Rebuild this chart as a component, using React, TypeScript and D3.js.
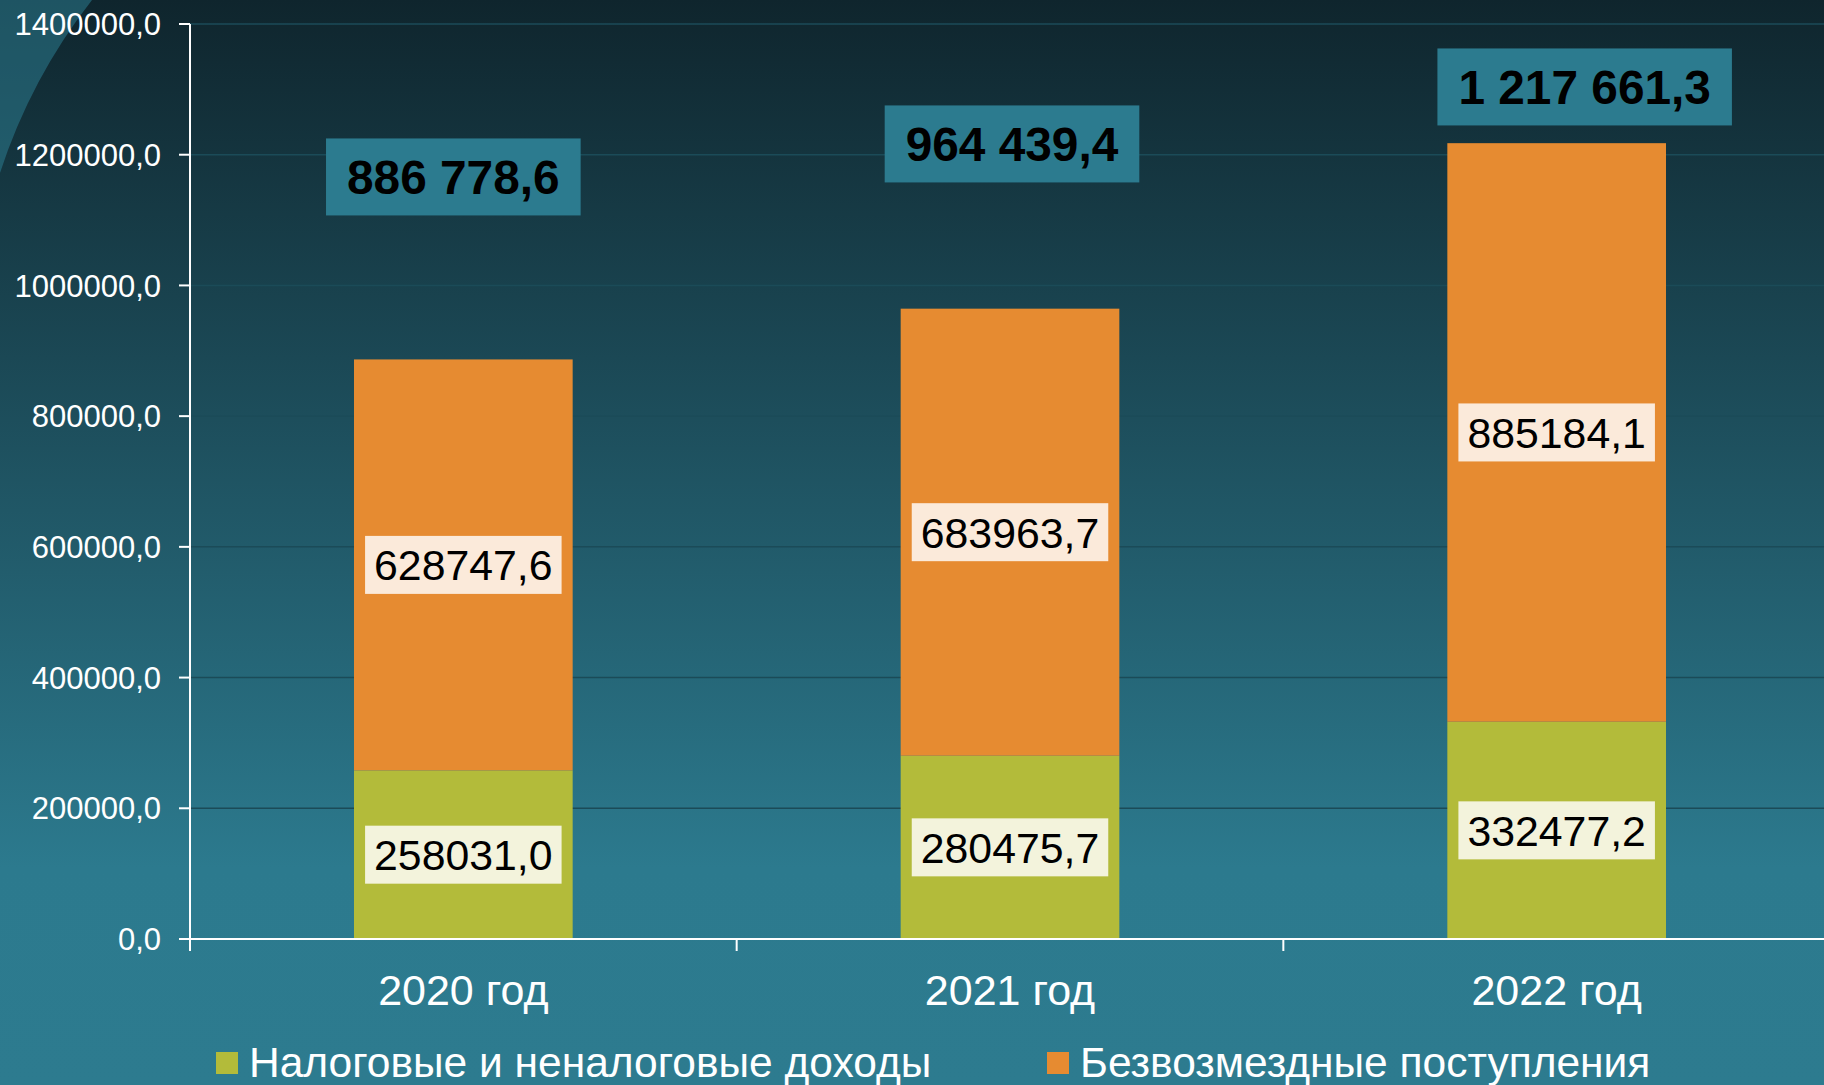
import React, { Component, createRef } from "react";
import * as d3 from "d3";

const categories = ["2020 год", "2021 год", "2022 год"];
const taxIncome = [258031.0, 280475.7, 332477.2];
const grantIncome = [628747.6, 683963.7, 885184.1];
const totalIncome = [886778.6, 964439.4, 1217661.3];
const seriesNames = ["Налоговые и неналоговые доходы", "Безвозмездные поступления"];
const yTicks = [0, 200000, 400000, 600000, 800000, 1000000, 1200000, 1400000];

// total boxes were placed by hand on the slide: level in value units, sideways nudge in px
const totalLabelLevel = [1166000, 1216500, 1303700];
const totalLabelShift = [-10, 2, 28];

const W = 1824;
const H = 1085;
const FONT = "'Liberation Sans', Arial, sans-serif";

const colors = {
  tax: "#B3BB3A",
  grant: "#E68B31",
  taxLabel: "#F3F3DC",
  grantLabel: "#FBEADA",
  totalBox: "#2C7B8F",
  grid: "#1B4B58",
};

const ru = d3.formatLocale({ decimal: ",", thousands: " ", grouping: [3], currency: ["", ""] });
const fmtPlain = ru.format(".1f");
const fmtGrouped = ru.format(",.1f");

class App extends Component {
  svgRef = createRef<SVGSVGElement>();

  componentDidMount() {
    document.body.style.margin = "0";
    this._draw();
  }

  _draw() {
    const svg = d3.select(this.svgRef.current);
    svg.selectAll("*").remove();

    const x = d3
      .scaleBand()
      .domain(categories)
      .range([190, 1830])
      .paddingInner(0.6)
      .paddingOuter(0.3);

    const y = d3.scaleLinear().domain([0, 1400000]).range([939, 24]);

    // background
    const defs = svg.append("defs");
    const grad = defs
      .append("linearGradient")
      .attr("id", "bg")
      .attr("x1", 0)
      .attr("y1", 0)
      .attr("x2", 0)
      .attr("y2", 1);
    grad.append("stop").attr("offset", 0).attr("stop-color", "#0F252D");
    grad.append("stop").attr("offset", 0.8).attr("stop-color", "#2C7A8E");
    grad.append("stop").attr("offset", 1).attr("stop-color", "#2D7B8F");

    svg.append("rect").attr("width", W).attr("height", H).attr("fill", "url(#bg)");
    svg
      .append("path")
      .attr("d", "M0,0 L92,0 A563,563 0 0 0 0,173 Z")
      .attr("fill", "#2C7B8F")
      .attr("opacity", 0.55);

    // grid
    svg
      .selectAll(".grid")
      .data(yTicks.filter((t) => t > 0))
      .enter()
      .append("line")
      .attr("x1", 190)
      .attr("x2", W)
      .attr("y1", (d) => y(d))
      .attr("y2", (d) => y(d))
      .attr("stroke", colors.grid)
      .attr("stroke-width", 1.5);

    // bars
    const rows = categories.map((c, i) => ({ cat: c, tax: taxIncome[i], grant: grantIncome[i] }));
    const stacked = d3.stack<any>().keys(["tax", "grant"])(rows);

    stacked.forEach((layer) => {
      svg
        .selectAll(".bar-" + layer.key)
        .data(layer)
        .enter()
        .append("rect")
        .attr("x", (d: any) => x(d.data.cat)!)
        .attr("width", x.bandwidth())
        .attr("y", (d) => y(d[1]))
        .attr("height", (d) => y(d[0]) - y(d[1]))
        .attr("fill", (colors as any)[layer.key]);
    });

    // value boxes inside the segments
    stacked.forEach((layer) => {
      layer.forEach((d: any) => {
        const cx = x(d.data.cat)! + x.bandwidth() / 2;
        const cy = (y(d[0]) + y(d[1])) / 2;
        const g = svg.append("g");
        const box = g.append("rect").attr("fill", (colors as any)[layer.key + "Label"]);
        const t = g
          .append("text")
          .attr("x", cx)
          .attr("y", cy)
          .attr("dy", "0.36em")
          .attr("text-anchor", "middle")
          .attr("font-family", FONT)
          .attr("font-size", 42.8)
          .attr("fill", "#000")
          .text(fmtPlain(d.data[layer.key]));
        const w = (t.node() as SVGTextElement).getComputedTextLength() + 18;
        box
          .attr("x", cx - w / 2)
          .attr("y", cy - 29)
          .attr("width", w)
          .attr("height", 58);
      });
    });

    // totals
    totalIncome.forEach((v, i) => {
      const cx = x(categories[i])! + x.bandwidth() / 2 + totalLabelShift[i];
      const cy = y(totalLabelLevel[i]);
      const g = svg.append("g");
      const box = g.append("rect").attr("fill", colors.totalBox);
      const t = g
        .append("text")
        .attr("x", cx)
        .attr("y", cy)
        .attr("dy", "0.36em")
        .attr("text-anchor", "middle")
        .attr("font-family", FONT)
        .attr("font-weight", "bold")
        .attr("font-size", 47.8)
        .attr("fill", "#000")
        .text(fmtGrouped(v));
      const w = (t.node() as SVGTextElement).getComputedTextLength() + 42;
      box
        .attr("x", cx - w / 2)
        .attr("y", cy - 38.5)
        .attr("width", w)
        .attr("height", 77);
    });

    // axes
    const axisColor = "#FFFFFF";
    svg
      .append("line")
      .attr("x1", 190)
      .attr("x2", 190)
      .attr("y1", y(1400000))
      .attr("y2", 951)
      .attr("stroke", axisColor)
      .attr("stroke-width", 2);
    svg
      .append("line")
      .attr("x1", 179)
      .attr("x2", W)
      .attr("y1", y(0))
      .attr("y2", y(0))
      .attr("stroke", axisColor)
      .attr("stroke-width", 2);

    svg
      .selectAll(".ytick")
      .data(yTicks)
      .enter()
      .append("line")
      .attr("x1", 179)
      .attr("x2", 190)
      .attr("y1", (d) => y(d))
      .attr("y2", (d) => y(d))
      .attr("stroke", axisColor)
      .attr("stroke-width", 2);

    svg
      .selectAll(".ylabel")
      .data(yTicks)
      .enter()
      .append("text")
      .attr("x", 161)
      .attr("y", (d) => y(d))
      .attr("dy", "0.36em")
      .attr("text-anchor", "end")
      .attr("font-family", FONT)
      .attr("font-size", 31)
      .attr("fill", "#FFFFFF")
      .text((d) => fmtPlain(d));

    const step = x.step();
    const gap = (step * x.paddingInner()) / 2;
    svg
      .selectAll(".xtick")
      .data(categories)
      .enter()
      .append("line")
      .attr("x1", (d) => x(d)! - gap)
      .attr("x2", (d) => x(d)! - gap)
      .attr("y1", y(0))
      .attr("y2", 951)
      .attr("stroke", axisColor)
      .attr("stroke-width", 2);

    svg
      .selectAll(".xlabel")
      .data(categories)
      .enter()
      .append("text")
      .attr("x", (d) => x(d)! + x.bandwidth() / 2)
      .attr("y", 1005)
      .attr("text-anchor", "middle")
      .attr("font-family", FONT)
      .attr("font-size", 43)
      .attr("fill", "#FFFFFF")
      .text((d) => d);

    // legend
    const legendX = [216, 1047];
    const legendColors = [colors.tax, colors.grant];
    seriesNames.forEach((name, i) => {
      svg
        .append("rect")
        .attr("x", legendX[i])
        .attr("y", 1052)
        .attr("width", 22)
        .attr("height", 22)
        .attr("fill", legendColors[i]);
      svg
        .append("text")
        .attr("x", legendX[i] + 33)
        .attr("y", 1077)
        .attr("font-family", FONT)
        .attr("font-size", 42.5)
        .attr("fill", "#FFFFFF")
        .text(name);
    });
  }

  render() {
    return <svg ref={this.svgRef} width={W} height={H} style={{ display: "block" }} />;
  }
}

export default App;
